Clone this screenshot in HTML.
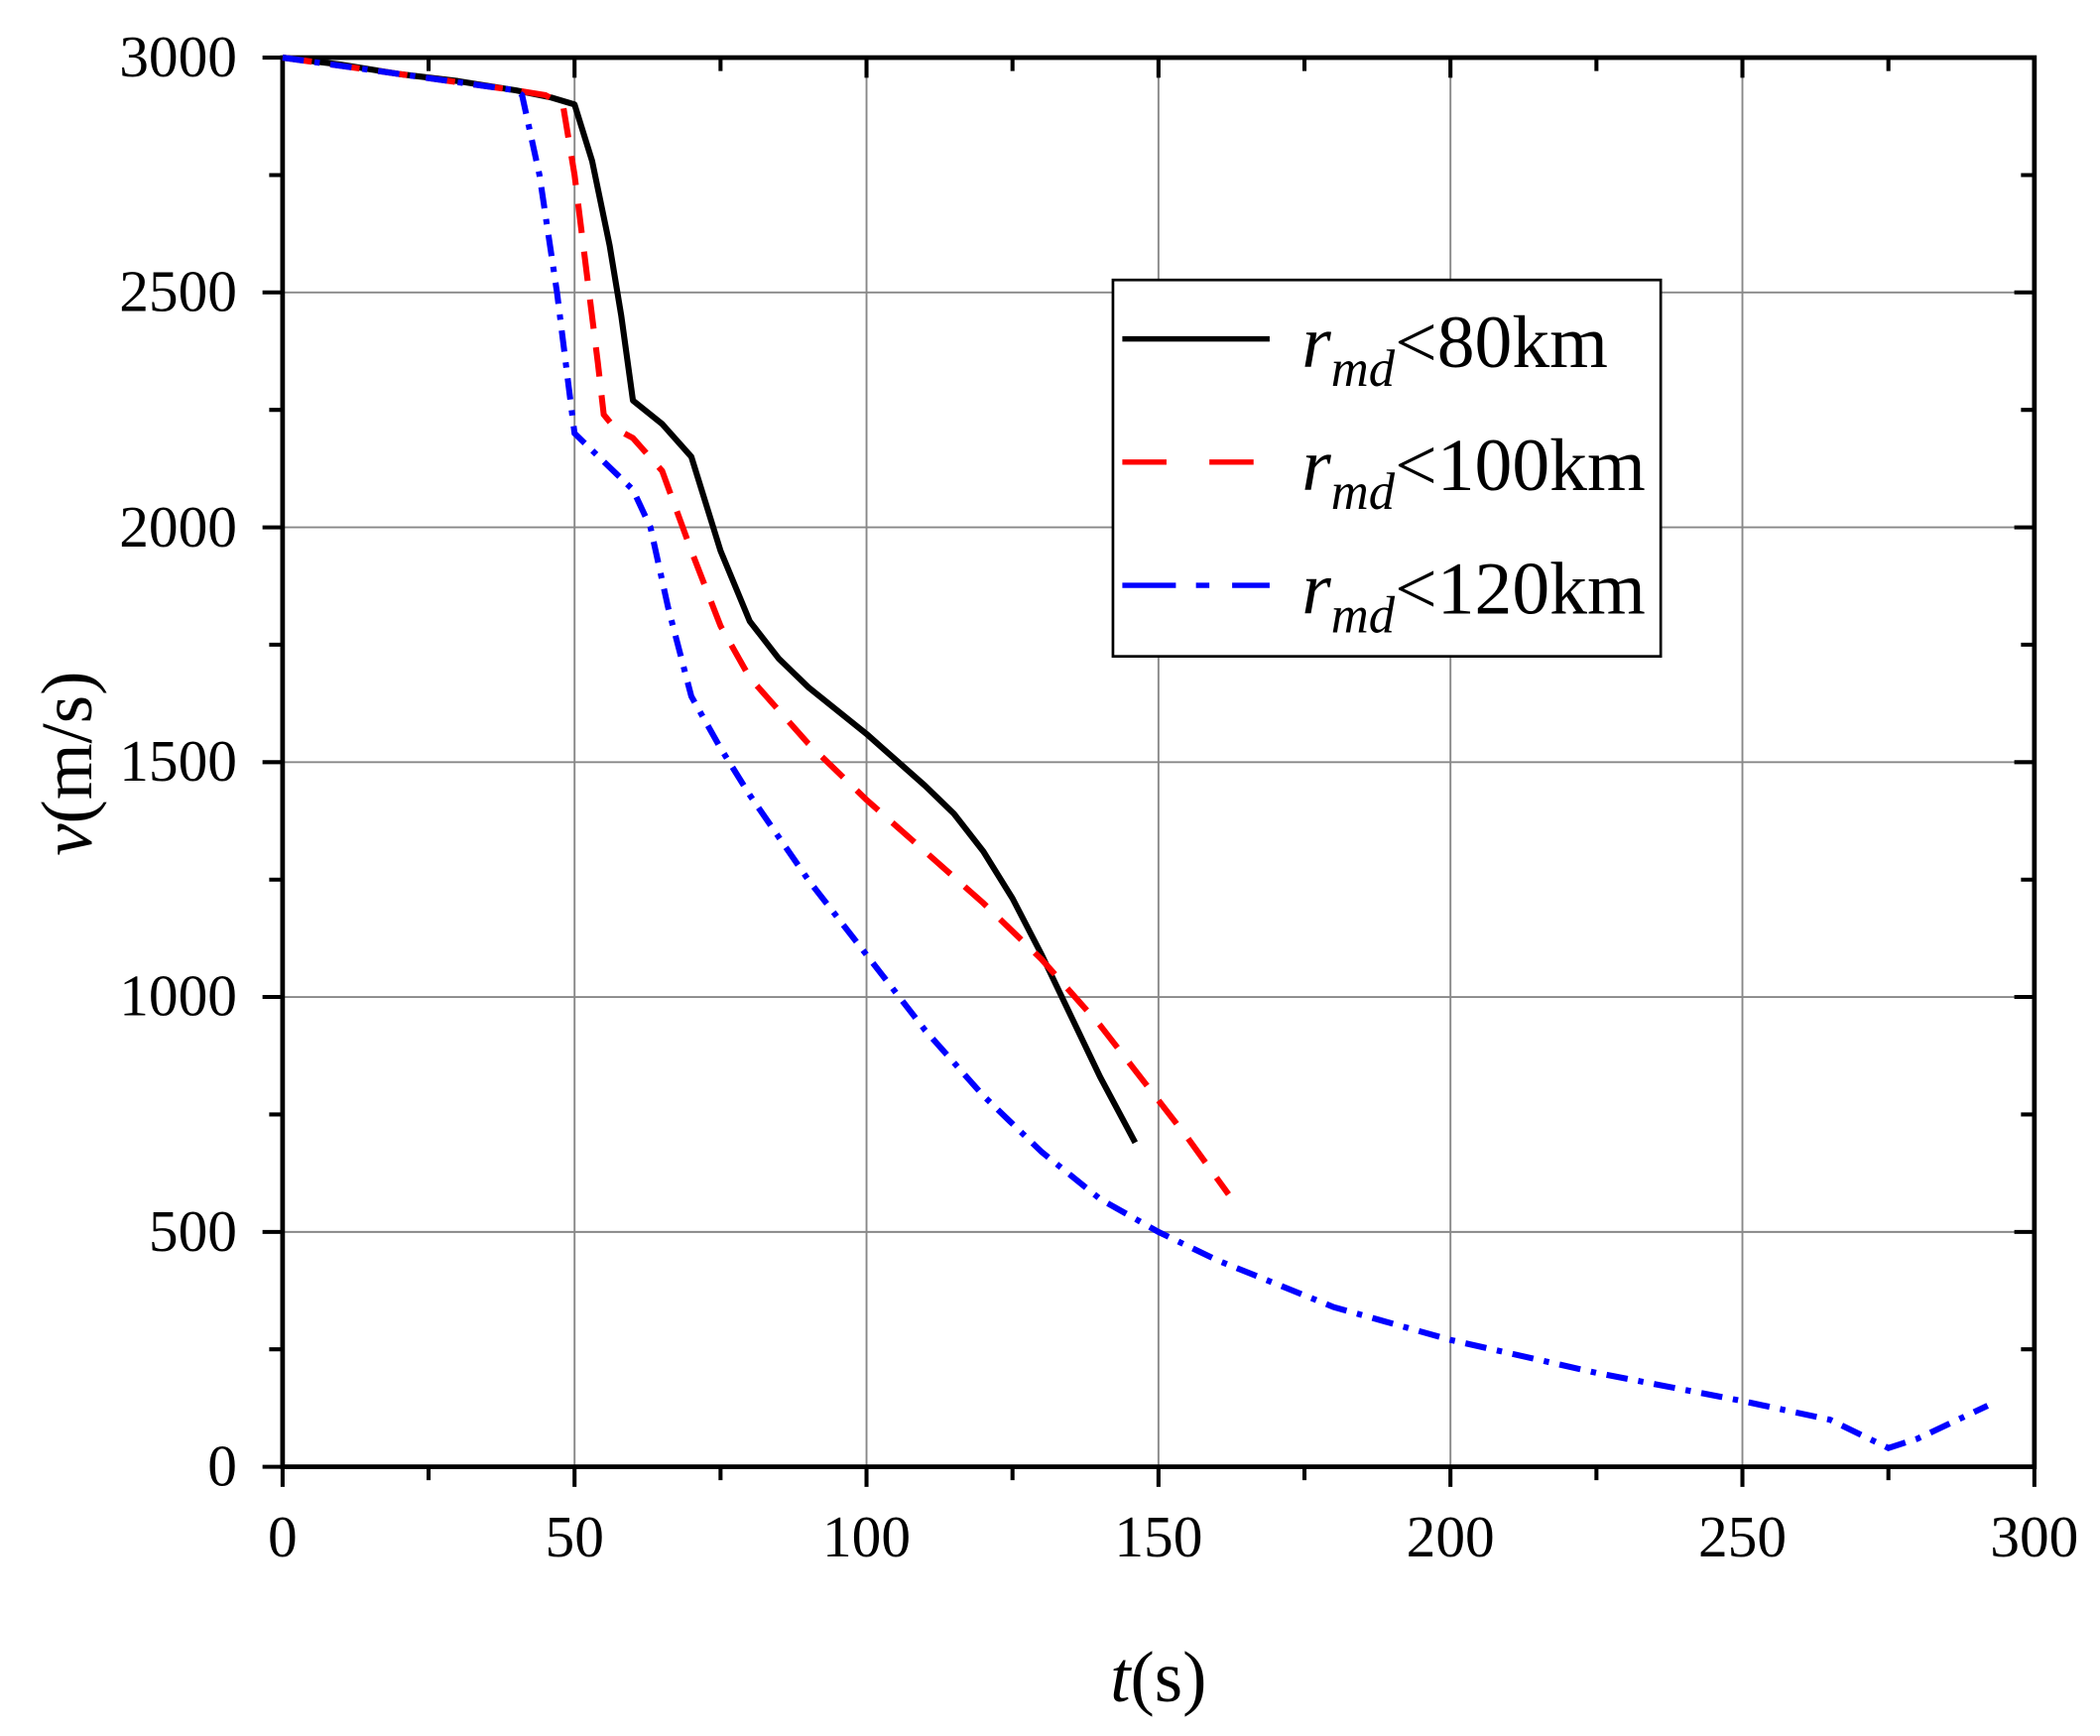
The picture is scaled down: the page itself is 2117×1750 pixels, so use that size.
<!DOCTYPE html>
<html><head><meta charset="utf-8"><style>
html,body{margin:0;padding:0;background:#fff;}
svg{display:block;}
text{font-family:"Liberation Serif",serif;fill:#000;}
</style></head><body>
<svg width="2117" height="1750" viewBox="0 0 1568 1296" preserveAspectRatio="none" xmlns="http://www.w3.org/2000/svg">
<rect width="1568" height="1296" fill="#fff"/>
<g stroke="#888" stroke-width="1.4">
<line x1="429" y1="43" x2="429" y2="1095"/><line x1="647" y1="43" x2="647" y2="1095"/>
<line x1="865" y1="43" x2="865" y2="1095"/><line x1="1083" y1="43" x2="1083" y2="1095"/>
<line x1="1301" y1="43" x2="1301" y2="1095"/>
<line x1="211" y1="218.3" x2="1519" y2="218.3"/><line x1="211" y1="393.7" x2="1519" y2="393.7"/>
<line x1="211" y1="569" x2="1519" y2="569"/><line x1="211" y1="744.3" x2="1519" y2="744.3"/>
<line x1="211" y1="919.7" x2="1519" y2="919.7"/>
</g>
<g stroke="#000" stroke-width="3">
<path d="M211 1095v15M429 1095v15M647 1095v15M865 1095v15M1083 1095v15M1301 1095v15M1519 1095v15"/>
<path d="M320 1095v10M538 1095v10M756 1095v10M974 1095v10M1192 1095v10M1410 1095v10"/>
<path d="M429 43v15M647 43v15M865 43v15M1083 43v15M1301 43v15"/>
<path d="M320 43v10M538 43v10M756 43v10M974 43v10M1192 43v10M1410 43v10"/>
<path d="M196 43h15M196 218.3h15M196 393.7h15M196 569h15M196 744.3h15M196 919.7h15M196 1095h15"/>
<path d="M201 130.7h10M201 306h10M201 481.3h10M201 656.7h10M201 832h10M201 1007.3h10"/>
<path d="M1504 218.3h15M1504 393.7h15M1504 569h15M1504 744.3h15M1504 919.7h15"/>
<path d="M1509 130.7h10M1509 306h10M1509 481.3h10M1509 656.7h10M1509 832h10M1509 1007.3h10"/>
</g>
<rect x="211" y="43" width="1308" height="1052" fill="none" stroke="#000" stroke-width="3.5"/>
<polyline fill="none" stroke="#000" stroke-width="4.5" stroke-linejoin="round" points="211,43 254.6,48.2 298.2,55.3 341.8,60.5 385.4,67.5 411.6,72.8 429,78 442.1,120.1 455.2,183.3 463.9,235.9 472.6,299 494.4,316.5 516.2,341 538,411.2 559.8,463.8 581.6,491.8 603.4,512.9 647,547.9 690.6,586.5 712.4,607.6 734.2,635.6 756,670.7 777.8,712.8 799.6,758.4 821.4,803.9 847.6,853"/>
<polyline fill="none" stroke="#f00" stroke-width="4.5" stroke-dasharray="22,14" points="211,43 385.4,67.5 407.2,71 420.3,78 429,130.6 437.7,200.8 446.4,270.9 450.8,309.5 459.5,320 472.6,327 494.4,351.6 516.2,411.2 538,467.3 559.8,505.9 603.4,555 647,597.1 690.6,635.6 734.2,674.2 777.8,716.3 821.4,765.4 865,821.5 886.8,849.5 917.3,891.6"/>
<polyline fill="none" stroke="#00f" stroke-width="4.5" stroke-dasharray="16,8,4,8" points="211,43 385.4,67.5 389.8,71 402.8,130.6 415.9,218.3 424.6,288.5 429,323.5 450.8,344.6 472.6,365.6 485.7,393.7 498.8,453.3 516.2,519.9 538,558.5 559.8,593.5 603.4,656.7 647,712.8 690.6,768.9 734.2,818 777.8,860 821.4,895.1 865,919.7 908.6,940.7 952.2,958.2 995.8,975.8 1083,1000.3 1192,1024.9 1301,1045.9 1366.4,1059.9 1388.2,1070.5 1410,1081 1431.8,1074 1484.1,1049.4"/>
<g font-size="44" text-anchor="end">
<text x="177" y="57">3000</text><text x="177" y="232">2500</text><text x="177" y="408">2000</text>
<text x="177" y="583">1500</text><text x="177" y="758">1000</text><text x="177" y="934">500</text>
<text x="177" y="1109">0</text>
</g>
<g font-size="44" text-anchor="middle">
<text x="211" y="1162">0</text><text x="429" y="1162">50</text><text x="647" y="1162">100</text>
<text x="865" y="1162">150</text><text x="1083" y="1162">200</text><text x="1301" y="1162">250</text>
<text x="1519" y="1162">300</text>
</g>
<text x="865" y="1270" font-size="54" text-anchor="middle"><tspan font-style="italic">t</tspan>(s)</text>
<text transform="translate(68,570) rotate(-90)" font-size="54" text-anchor="middle"><tspan font-style="italic">v</tspan>(m/s)</text>
<rect x="831" y="209" width="409" height="281" fill="#fff" stroke="#000" stroke-width="2"/>
<line x1="838" y1="253" x2="948" y2="253" stroke="#000" stroke-width="4"/>
<line x1="838" y1="345" x2="948" y2="345" stroke="#f00" stroke-width="4" stroke-dasharray="33,32"/>
<line x1="838" y1="437" x2="948" y2="437" stroke="#00f" stroke-width="4" stroke-dasharray="40,15,10,17"/>
<g font-size="56">
<text x="972" y="274"><tspan font-style="italic">r</tspan><tspan font-style="italic" font-size="39" dy="14">md</tspan><tspan dy="-14">&lt;80km</tspan></text>
<text x="972" y="366"><tspan font-style="italic">r</tspan><tspan font-style="italic" font-size="39" dy="14">md</tspan><tspan dy="-14">&lt;100km</tspan></text>
<text x="972" y="458"><tspan font-style="italic">r</tspan><tspan font-style="italic" font-size="39" dy="14">md</tspan><tspan dy="-14">&lt;120km</tspan></text>
</g>
</svg>
</body></html>
